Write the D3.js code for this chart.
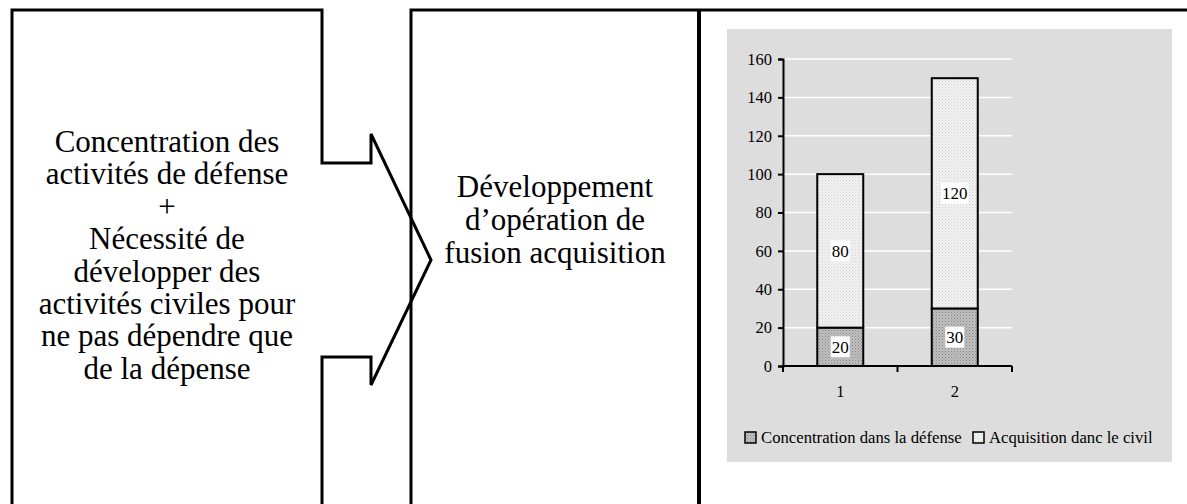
<!DOCTYPE html>
<html>
<head>
<meta charset="utf-8">
<script src="https://cdn.jsdelivr.net/npm/d3@7"></script>
<style>
  html, body { margin: 0; padding: 0; background: #fff; }
  svg { display: block; }
</style>
</head>
<body>
<svg id="fig" width="1187" height="504"></svg>
<script>
// Chart data
const categories = ["1", "2"];
const defense = [20, 30];          // Concentration dans la défense
const civil = [80, 120];           // Acquisition danc le civil
const seriesNames = ["Concentration dans la défense", "Acquisition danc le civil"];
const yTicks = [0, 20, 40, 60, 80, 100, 120, 140, 160];

// Diagram texts
const leftLines = [
  "Concentration des",
  "activités de défense",
  "+",
  "Nécessité de",
  "développer des",
  "activités civiles pour",
  "ne pas dépendre que",
  "de la dépense"
];
const middleLines = ["Développement", "d’opération de", "fusion acquisition"];

const svg = d3.select("#fig");
const serif = "'Liberation Serif', 'Times New Roman', serif";

// Fill patterns for the stacked segments
const defs = svg.append("defs");
const pDark = defs.append("pattern").attr("id", "patDark")
  .attr("width", 3).attr("height", 3).attr("patternUnits", "userSpaceOnUse");
pDark.append("rect").attr("width", 3).attr("height", 3).attr("fill", "#c0c0c0");
pDark.append("rect").attr("x", 0).attr("y", 0).attr("width", 1).attr("height", 1).attr("fill", "#858585");
pDark.append("rect").attr("x", 1.5).attr("y", 1.5).attr("width", 1).attr("height", 1).attr("fill", "#959595");

const pLight = defs.append("pattern").attr("id", "patLight")
  .attr("width", 3).attr("height", 3).attr("patternUnits", "userSpaceOnUse");
pLight.append("rect").attr("width", 3).attr("height", 3).attr("fill", "#f2f2f2");
pLight.append("rect").attr("x", 0).attr("y", 0).attr("width", 1).attr("height", 1).attr("fill", "#cfcfcf");
pLight.append("rect").attr("x", 1.5).attr("y", 1.5).attr("width", 1).attr("height", 1).attr("fill", "#dadada");

// ---- Diagram frame ----
const frame = svg.append("g").attr("fill", "none").attr("stroke", "#000")
  .attr("stroke-width", 3).attr("stroke-linejoin", "miter");

// Left box with the arrow notch on its right side
frame.append("path").attr("d", d3.line()([
  [12, 540], [12, 10], [322, 10], [322, 163], [371, 163], [371, 134],
  [431, 260], [371, 385], [371, 357], [322, 357], [322, 540]
]));

// Middle box and top rule across the right panel
frame.append("path").attr("d", d3.line()([[411, 540], [411, 10], [1190, 10]]));
frame.append("line").attr("x1", 699).attr("x2", 699).attr("y1", 10).attr("y2", 540)
  .attr("stroke-width", 4);

// Box texts
svg.append("g").selectAll("text").data(leftLines).join("text")
  .attr("x", 167).attr("y", (d, i) => 152 + i * 32.4)
  .attr("text-anchor", "middle").attr("font-family", serif).attr("font-size", 31)
  .attr("fill", "#000").text(d => d);

svg.append("g").selectAll("text").data(middleLines).join("text")
  .attr("x", 555).attr("y", (d, i) => 197 + i * 32.8)
  .attr("text-anchor", "middle").attr("font-family", serif).attr("font-size", 31)
  .attr("fill", "#000").text(d => d);

// ---- Stacked bar chart ----
svg.append("rect").attr("x", 727).attr("y", 29).attr("width", 445).attr("height", 433)
  .attr("fill", "#dddddd");

const x = d3.scaleBand().domain(categories).range([783, 1012]).paddingInner(0).paddingOuter(0);
const y = d3.scaleLinear().domain([0, 160]).range([366, 59]);
const barW = 46;

// Gridlines
svg.append("g").selectAll("line").data(yTicks.filter(t => t > 0)).join("line")
  .attr("x1", 783).attr("x2", 1012)
  .attr("y1", d => y(d)).attr("y2", d => y(d))
  .attr("stroke", "#fff").attr("stroke-width", 1.5);

// Stacked segments
const stackData = categories.map((c, i) => ({ cat: c, defense: defense[i], civil: civil[i] }));
const stacked = d3.stack().keys(["defense", "civil"])(stackData);
const fills = { defense: "url(#patDark)", civil: "url(#patLight)" };

const layers = svg.append("g").selectAll("g").data(stacked).join("g")
  .attr("fill", d => fills[d.key]);
layers.selectAll("rect").data(d => d).join("rect")
  .attr("x", d => x(d.data.cat) + x.bandwidth() / 2 - barW / 2)
  .attr("width", barW)
  .attr("y", d => y(d[1]))
  .attr("height", d => y(d[0]) - y(d[1]))
  .attr("stroke", "#000").attr("stroke-width", 2);

// Value labels on white boxes
const labels = svg.append("g");
stacked.forEach(layer => {
  layer.forEach(d => {
    const v = d[1] - d[0];
    const cx = x(d.data.cat) + x.bandwidth() / 2;
    const cy = y((d[0] + d[1]) / 2);
    const txt = String(v);
    const w = txt.length * 8.5 + 2;
    labels.append("rect").attr("x", cx - w / 2).attr("y", cy - 10.5)
      .attr("width", w).attr("height", 21).attr("fill", "#fff");
    labels.append("text").attr("x", cx).attr("y", cy + 6)
      .attr("text-anchor", "middle").attr("font-family", serif).attr("font-size", 17)
      .attr("fill", "#000").text(txt);
  });
});

// Axes
const yAxis = svg.append("g").attr("transform", "translate(783,0)")
  .call(d3.axisLeft(y).tickValues(yTicks).tickSize(5).tickPadding(6));
const xAxis = svg.append("g").attr("transform", "translate(0,366)")
  .call(d3.axisBottom(x).tickSize(0).tickPadding(19));

[yAxis, xAxis].forEach(a => {
  a.select(".domain").attr("stroke", "#000").attr("stroke-width", 2);
  a.selectAll(".tick line").attr("stroke", "#000").attr("stroke-width", 2);
  a.selectAll(".tick text").attr("font-family", serif).attr("font-size", 16.5).attr("fill", "#000");
});
xAxis.select(".domain").attr("d", "M783,0H1012");

// Category separator ticks on the x axis
svg.append("g").selectAll("line").data([783, 783 + x.bandwidth(), 1012]).join("line")
  .attr("x1", d => d).attr("x2", d => d).attr("y1", 366).attr("y2", 372)
  .attr("stroke", "#000").attr("stroke-width", 2);

// Legend
const legend = svg.append("g").attr("font-family", serif).attr("font-size", 16.7);
const legendX = [745, 973];
seriesNames.forEach((name, i) => {
  legend.append("rect").attr("x", legendX[i]).attr("y", 432).attr("width", 11).attr("height", 11)
    .attr("fill", i === 0 ? "url(#patDark)" : "url(#patLight)")
    .attr("stroke", "#000").attr("stroke-width", 1.5);
  legend.append("text").attr("x", legendX[i] + 16).attr("y", 442.5)
    .attr("fill", "#000").text(name);
});
</script>
</body>
</html>
